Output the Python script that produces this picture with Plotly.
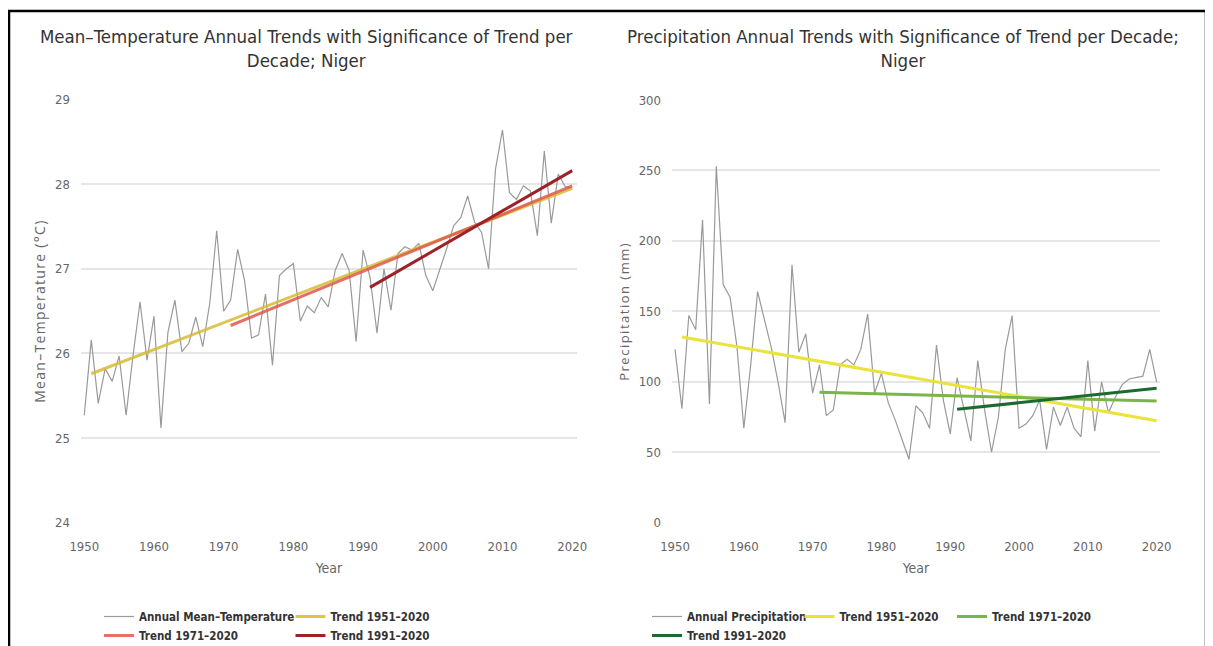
import plotly.graph_objects as go

PAGE_W, PAGE_H = 1213, 646
OFF = 8  # page body margin of the written html
W, H = PAGE_W - OFF, PAGE_H - OFF

years = list(range(1950, 2021))

temp = [25.27, 26.16, 25.41, 25.82, 25.67, 25.97, 25.27, 25.98, 26.61, 25.92,
        26.44, 25.12, 26.25, 26.63, 26.02, 26.12, 26.43, 26.08, 26.59, 27.45,
        26.50, 26.63, 27.23, 26.86, 26.18, 26.22, 26.70, 25.86, 26.92, 27.00,
        27.06, 26.38, 26.56, 26.48, 26.66, 26.55, 26.98, 27.18, 26.98, 26.14,
        27.22, 26.90, 26.24, 27.00, 26.51, 27.18, 27.26, 27.22, 27.30, 26.92,
        26.74, 26.98, 27.24, 27.51, 27.60, 27.86, 27.55, 27.43, 27.00, 28.18,
        28.64, 27.90, 27.82, 27.98, 27.92, 27.39, 28.39, 27.54, 28.12, 27.97,
        27.95]

precip = [123, 81, 147, 137, 215, 84, 253, 169, 160, 125,
          67, 112, 164, 143, 124, 99, 71, 183, 121, 134,
          92, 112, 76, 80, 112, 116, 112, 123, 148, 92,
          106, 85, 73, 59, 45, 83, 78, 67, 126, 87,
          63, 103, 80, 58, 115, 80, 50, 75, 123, 147,
          67, 70, 76, 87, 52, 82, 69, 82, 67, 61,
          115, 65, 100, 78, 89, 98, 102, 103, 104, 123,
          100]

trend_names = ["Trend 1951–2020", "Trend 1971–2020", "Trend 1991–2020"]
trend_years = {"Trend 1951–2020": (1951, 2020), "Trend 1971–2020": (1971, 2020), "Trend 1991–2020": (1991, 2020)}
temp_trend_vals = {"Trend 1951–2020": (25.76, 27.95), "Trend 1971–2020": (26.33, 27.98), "Trend 1991–2020": (26.78, 28.16)}
prec_trend_vals = {"Trend 1951–2020": (131.8, 72.4), "Trend 1971–2020": (92.5, 86.4), "Trend 1991–2020": (80.5, 95.4)}

temp_colors = {"Trend 1951–2020": "rgba(214,188,50,0.85)", "Trend 1971–2020": "rgba(222,88,78,0.85)", "Trend 1991–2020": "#9b2226"}
prec_colors = {"Trend 1951–2020": "#e9e33c", "Trend 1971–2020": "#7bb548", "Trend 1991–2020": "#1d6a2f"}

# which legend box each entry goes to (rows of the legend)
temp_legend = {"annual": "legend", "Trend 1951–2020": "legend", "Trend 1971–2020": "legend3", "Trend 1991–2020": "legend3"}
prec_legend = {"annual": "legend2", "Trend 1951–2020": "legend2", "Trend 1971–2020": "legend2", "Trend 1991–2020": "legend4"}

FONT = "Liberation Sans Narrow, DejaVu Sans Condensed, Roboto Condensed, Arial Narrow, sans-serif"

fig = go.Figure()

fig.add_trace(go.Scatter(x=years, y=temp, mode="lines", name="Annual Mean–Temperature",
                         line=dict(color="#9a9a9a", width=1.2), xaxis="x", yaxis="y",
                         legend=temp_legend["annual"]))
for name in trend_names:
    fig.add_trace(go.Scatter(x=list(trend_years[name]), y=list(temp_trend_vals[name]), mode="lines",
                             name=name, line=dict(color=temp_colors[name], width=3),
                             xaxis="x", yaxis="y", legend=temp_legend[name]))

fig.add_trace(go.Scatter(x=years, y=precip, mode="lines", name="Annual Precipitation",
                         line=dict(color="#9a9a9a", width=1.2), xaxis="x2", yaxis="y2",
                         legend=prec_legend["annual"]))
for name in trend_names:
    fig.add_trace(go.Scatter(x=list(trend_years[name]), y=list(prec_trend_vals[name]), mode="lines",
                             name=name, line=dict(color=prec_colors[name], width=3),
                             xaxis="x2", yaxis="y2", legend=prec_legend[name]))


def px(x):
    return (x - OFF) / W


def py(y):
    return (H - (y - OFF)) / H


tickfont = dict(family=FONT, size=13, color="#666666")
xaxis_common = dict(showgrid=False, zeroline=False, showline=False, ticks="", tickfont=tickfont,
                    tickvals=[1950, 1960, 1970, 1980, 1990, 2000, 2010, 2020], ticklabelstandoff=14)
legfont = dict(family=FONT, size=11.5, color="#333333", weight="bold")


def leg(x, ytop, ew):
    return dict(orientation="h", x=px(x), y=py(ytop), xanchor="left", yanchor="top",
                entrywidth=ew, entrywidthmode="pixels", traceorder="normal",
                font=legfont, bgcolor="rgba(0,0,0,0)", itemwidth=30)


fig.update_layout(
    width=W, height=H,
    margin=dict(l=0, r=0, t=0, b=0, autoexpand=False),
    paper_bgcolor="white", plot_bgcolor="white",
    showlegend=True,
    xaxis=dict(domain=[px(81), px(577)], range=[1949.53, 2020.69], anchor="y",
               title=dict(text="Year", font=dict(family=FONT, size=14, color="#666666"), standoff=10),
               **xaxis_common),
    yaxis=dict(domain=[py(522.7), py(99.5)], range=[24, 29], anchor="x",
               tickvals=[24, 25, 26, 27, 28, 29], showgrid=True, gridcolor="#e6e6e6", gridwidth=1.5,
               zeroline=False, showline=False, ticks="", tickfont=tickfont, ticklabelstandoff=10,
               title=dict(text='<span style="letter-spacing:1.3px">Mean–Temperature (°C)</span>',
                          font=dict(family="Open Sans, sans-serif", size=14, color="#666666"), standoff=6)),
    xaxis2=dict(domain=[px(672), px(1160)], range=[1949.56, 2020.49], anchor="y2",
                title=dict(text="Year", font=dict(family=FONT, size=14, color="#666666"), standoff=10),
                **xaxis_common),
    yaxis2=dict(domain=[py(522.7), py(100)], range=[0, 300], anchor="x2",
                tickvals=[0, 50, 100, 150, 200, 250, 300], showgrid=True, gridcolor="#e6e6e6", gridwidth=1.5,
                zeroline=False, showline=False, ticks="", tickfont=tickfont, ticklabelstandoff=10,
                title=dict(text='<span style="letter-spacing:1.5px">Precipitation (mm)</span>',
                           font=dict(family="Open Sans, sans-serif", size=13, color="#666666"), standoff=6)),
    legend=leg(99, 602, 146.5),
    legend3=leg(99, 621, 146.5),
    legend2=leg(647, 602, 107.5),
    legend4=leg(647, 621, 107.5),
    annotations=[
        dict(text="Mean–Temperature Annual Trends with Significance of Trend per<br>Decade; Niger",
             x=px(306), y=py(24), xref="paper", yref="paper", xanchor="center", yanchor="top",
             showarrow=False, font=dict(family=FONT, size=18.5, color="#333333"), align="center"),
        dict(text="Precipitation Annual Trends with Significance of Trend per Decade;<br>Niger",
             x=px(903), y=py(24), xref="paper", yref="paper", xanchor="center", yanchor="top",
             showarrow=False, font=dict(family=FONT, size=18.5, color="#333333"), align="center"),
    ],
    shapes=[
        dict(type="rect", xref="paper", yref="paper", x0=px(9), x1=px(1206), y0=-0.1, y1=py(11),
             line=dict(color="black", width=2.5), fillcolor="rgba(0,0,0,0)", layer="above"),
    ],
)

fig.write_html("out.html")
